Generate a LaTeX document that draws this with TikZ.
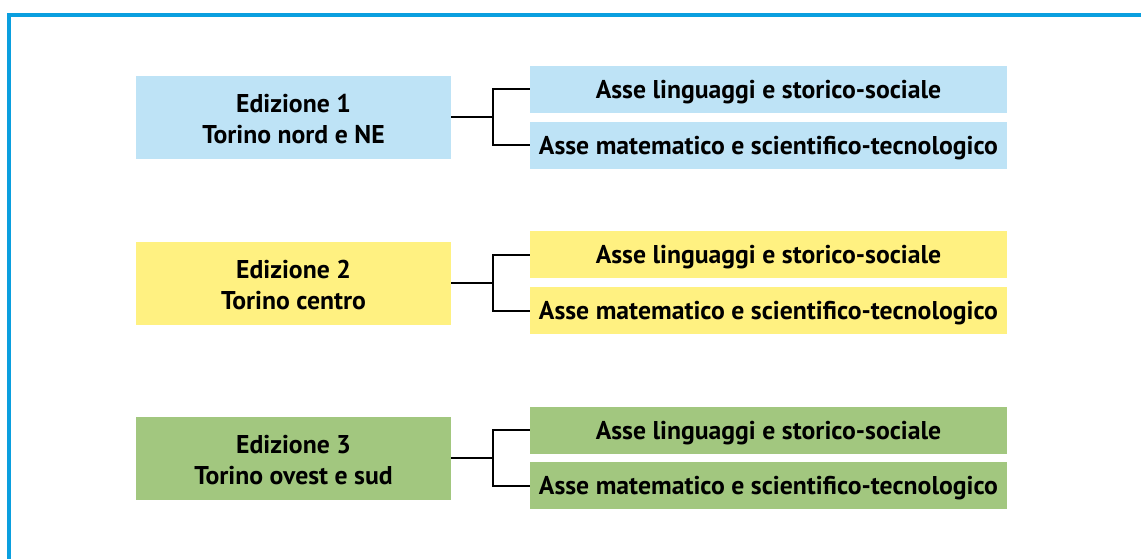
\documentclass[tikz,border=0pt]{standalone}
\usepackage{fontspec}
\setmainfont{PT Sans}
\definecolor{frameblue}{HTML}{0A9FDF}
\definecolor{boxblue}{HTML}{BEE3F6}
\definecolor{boxyellow}{HTML}{FFF181}
\definecolor{boxgreen}{HTML}{A2C77F}
\tikzset{
  leftbox/.style={minimum width=315pt, minimum height=83pt, inner sep=0pt},
  rightbox/.style={minimum width=477pt, minimum height=47pt, inner sep=0pt},
  lbl/.style={inner sep=0pt, align=center, font=\fontsize{25.7}{31}\selectfont\bfseries},
  conn/.style={line width=2pt, black}
}
\begin{document}
\begin{tikzpicture}[x=1pt,y=-1pt]
\useasboundingbox (0,0) rectangle (1141,559);
\fill[white] (0,0) rectangle (1141,559);
\fill[frameblue] (7,13) rectangle (1141,17);
\fill[frameblue] (7,13) rectangle (11,559);
\foreach \i/\c/\ly/\ty/\by/\t in {1/boxblue/117.5/89.5/145.5/{Edizione 1\\Torino nord e NE}, 2/boxyellow/283/254.5/310.5/{Edizione 2\\Torino centro}, 3/boxgreen/458/430/485.5/{Edizione 3\\Torino ovest e sud}}{
  \node[leftbox, fill=\c] (L\i) at (293.5,\ly) {};
  \node[lbl] (LT\i) at ([yshift=-2pt]L\i.center) {\t};
  \node[rightbox, fill=\c] (A\i) at (768.5,\ty) {};
  \node[lbl] (AT\i) at ([yshift=-3pt]A\i.center) {Asse linguaggi e storico-sociale};
  \node[rightbox, fill=\c] (B\i) at (768.5,\by) {};
  \node[lbl] (BT\i) at ([yshift=-3pt]B\i.center) {Asse matematico e scientifico-tecnologico};
  \coordinate (J\i) at (492.5,\ly);
  \draw[conn] (L\i.east) -- (J\i);
  \draw[conn] (A\i.west) -| (J\i) |- (B\i.west);
}
\end{tikzpicture}
\end{document}
